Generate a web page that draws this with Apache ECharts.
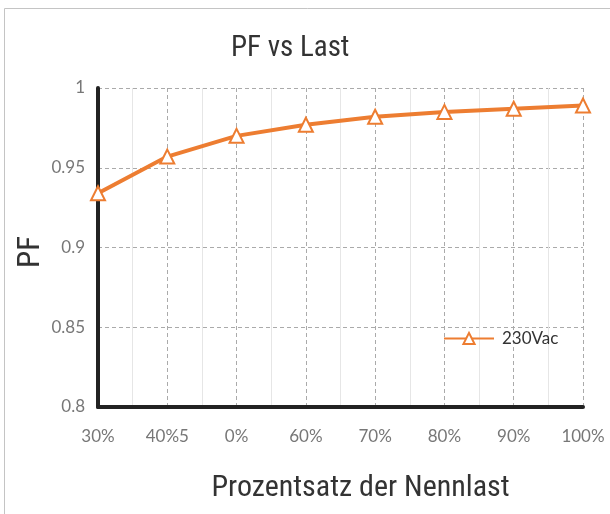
<!DOCTYPE html>
<html>
<head>
<meta charset="utf-8">
<script src="https://cdn.jsdelivr.net/npm/echarts@6/dist/echarts.min.js"></script>
<style>
  html, body { margin: 0; padding: 0; background: #fff; }
  #chart { width: 610px; height: 514px; }
</style>
</head>
<body>
<div id="chart"></div>
<script>
const categories = ['30%', '40%5', '0%', '60%', '70%', '80%', '90%', '100%']
const pf230 = [0.934, 0.957, 0.970, 0.977, 0.982, 0.985, 0.987, 0.989]
const seriesName = '230Vac'

const narrow = "'Roboto Condensed', 'DejaVu Sans Condensed', sans-serif"
const labelFont = "Lato, 'Open Sans', sans-serif"
const orange = '#ED7D31'

const myChart = echarts.init(document.getElementById('chart'))
myChart.setOption({
  animation: false,
  graphic: [{
    type: 'rect',
    shape: { x: 4.5, y: 8.5, width: 620, height: 520 },
    style: { fill: 'none', stroke: '#c4c4c4', lineWidth: 1 },
    silent: true
  }, {
    // y axis title, placed by hand like the original
    type: 'text',
    x: 31,
    y: 252,
    rotation: Math.PI / 2,
    style: {
      text: 'PF',
      fontFamily: narrow,
      fontSize: 31,
      fill: '#333',
      align: 'center',
      verticalAlign: 'middle'
    },
    silent: true
  }],
  title: {
    text: 'PF vs Last',
    left: 226,
    top: 29,
    textStyle: { fontFamily: narrow, fontSize: 29, fontWeight: 'normal', color: '#333' }
  },
  legend: {
    left: 438,
    top: 325,
    itemWidth: 50,
    itemHeight: 14,
    itemGap: 2,
    data: [seriesName],
    textStyle: { fontFamily: labelFont, fontSize: 17, color: '#333', padding: [0, 0, 0, 3] }
  },
  grid: { left: 98, right: 27, top: 88, bottom: 107 },
  xAxis: [{
    type: 'category',
    data: categories,
    boundaryGap: false,
    name: 'Prozentsatz der Nennlast',
    nameLocation: 'middle',
    nameGap: 66,
    nameTextStyle: { fontFamily: narrow, fontSize: 30, color: '#333', padding: [0, 0, 0, 40] },
    axisLine: { lineStyle: { color: '#222', width: 4 } },
    axisTick: { show: false },
    axisLabel: { margin: 21, fontFamily: labelFont, fontSize: 17, color: '#777' },
    splitLine: { show: true, lineStyle: { color: '#aaa', type: [4, 3], width: 1 } }
  }, {
    type: 'value',
    min: 0,
    max: 7,
    interval: 1,
    show: true,
    position: 'bottom',
    axisLine: { show: false },
    axisTick: { show: false },
    axisLabel: { show: false },
    splitLine: { show: false },
    minorTick: { show: false, splitNumber: 2 },
    minorSplitLine: { show: true, lineStyle: { color: '#e6e6e6', width: 1 } }
  }],
  yAxis: {
    type: 'value',
    min: 0.8,
    max: 1,
    interval: 0.05,
    axisLine: { show: true, lineStyle: { color: '#222', width: 4 } },
    axisTick: { show: false },
    axisLabel: { margin: 13, fontFamily: labelFont, fontSize: 17, color: '#777' },
    splitLine: { lineStyle: { color: '#aaa', type: [4, 3], width: 1 } }
  },
  series: [{
    name: seriesName,
    type: 'line',
    xAxisIndex: 0,
    data: pf230,
    symbol: 'triangle',
    symbolSize: 14,
    lineStyle: { color: orange, width: 4 },
    itemStyle: { color: '#fff', borderColor: orange, borderWidth: 2 },
    z: 5
  }]
})
</script>
</body>
</html>
